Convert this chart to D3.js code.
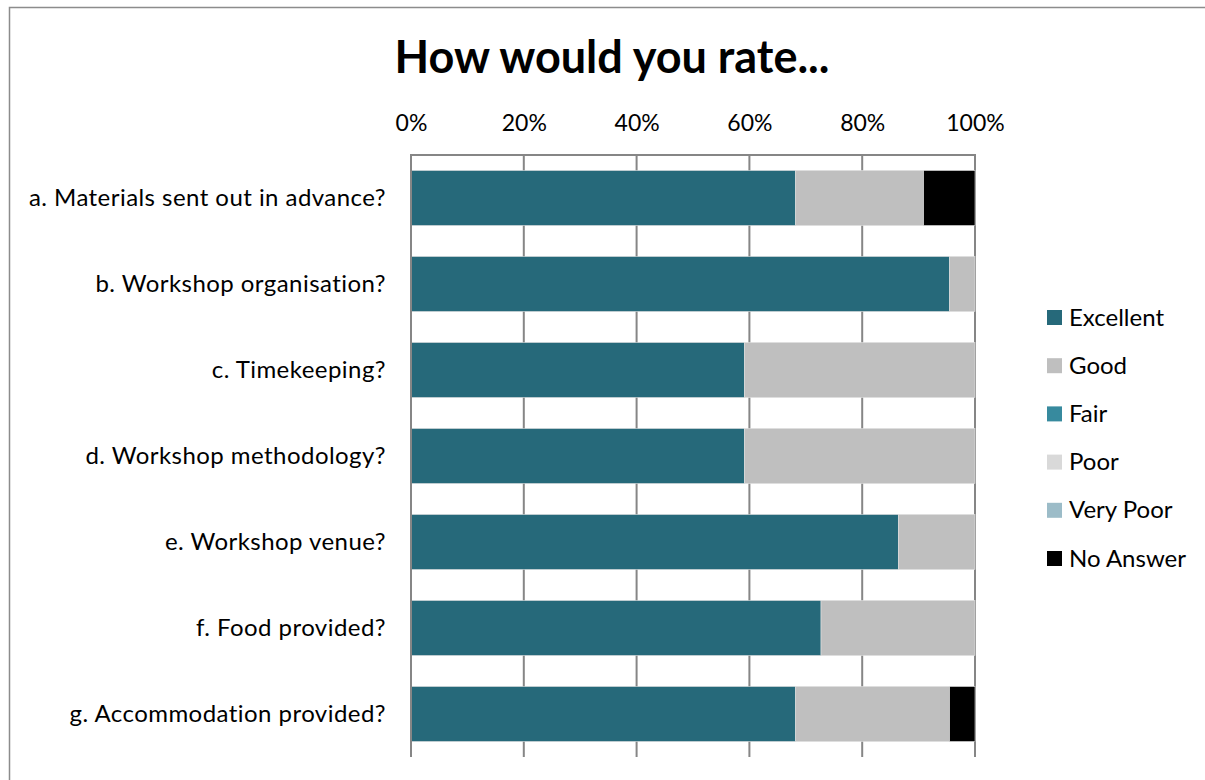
<!DOCTYPE html>
<html>
<head>
<meta charset="utf-8">
<script src="https://d3js.org/d3.v7.min.js"></script>
<style>
    body { margin: 0; background: #fff; }
    svg { display: block; font-family: Lato, "Open Sans", sans-serif; }
</style>
</head>
<body>
<svg width="1205" height="780"></svg>
<script>
    // questions, top to bottom
    var questions = [
        'a. Materials sent out in advance?',
        'b. Workshop organisation?',
        'c. Timekeeping?',
        'd. Workshop methodology?',
        'e. Workshop venue?',
        'f. Food provided?',
        'g. Accommodation provided?'
    ];
    var ratings = ['Excellent', 'Good', 'Fair', 'Poor', 'Very Poor', 'No Answer'];
    var colors = ['#26697a', '#bfbfbf', '#378a9e', '#d9d9d9', '#9cbcc8', '#000000'];

    // percentage of answers per rating, one value per question
    var excellent = [68.2, 95.5, 59.1, 59.1, 86.4, 72.7, 68.2];
    var good      = [22.7, 4.5, 40.9, 40.9, 13.6, 27.3, 27.3];
    var fair      = [0, 0, 0, 0, 0, 0, 0];
    var poor      = [0, 0, 0, 0, 0, 0, 0];
    var veryPoor  = [0, 0, 0, 0, 0, 0, 0];
    var noAnswer  = [9.1, 0, 0, 0, 0, 0, 4.5];

    var tickValues = [0, 20, 40, 60, 80, 100];

    var series = [excellent, good, fair, poor, veryPoor, noAnswer];
    var rows = questions.map(function(q, i) {
        var r = {q: q};
        ratings.forEach(function(k, j) { r[k] = series[j][i]; });
        return r;
    });

    var svg = d3.select('svg');

    // outer frame
    svg.append('rect')
        .attr('x', 9.5).attr('y', 7.5)
        .attr('width', 1220).attr('height', 800)
        .attr('fill', 'none').attr('stroke', '#8c8c8c').attr('stroke-width', 1.5);

    var plotLeft = 411, plotRight = 975, plotTop = 155, plotBottom = 757;

    var x = d3.scaleLinear().domain([0, 100]).range([plotLeft, plotRight]);
    var y = d3.scaleBand().domain(questions).range([plotTop, plotBottom])
        .paddingInner(0.36).paddingOuter(0.18);

    svg.append('text')
        .attr('x', 612).attr('y', 73)
        .attr('text-anchor', 'middle')
        .attr('font-size', 45).attr('font-weight', 'bold')
        .text('How would you rate...');

    // gridlines
    svg.append('g').selectAll('line')
        .data(tickValues)
        .enter().append('line')
        .attr('x1', function(d) { return x(d); })
        .attr('x2', function(d) { return x(d); })
        .attr('y1', plotTop).attr('y2', plotBottom)
        .attr('stroke', '#868686').attr('stroke-width', 2);

    // top border line
    svg.append('line')
        .attr('x1', plotLeft - 1).attr('x2', plotRight + 1)
        .attr('y1', plotTop).attr('y2', plotTop)
        .attr('stroke', '#868686').attr('stroke-width', 2);

    var stack = d3.stack().keys(ratings);
    var layers = stack(rows);

    svg.append('g').selectAll('g')
        .data(layers)
        .enter().append('g')
        .attr('fill', function(d, i) { return colors[i]; })
        .selectAll('rect')
        .data(function(d) { return d.filter(function(s) { return s[1] - s[0] > 0; }); })
        .enter().append('rect')
        .attr('x', function(d) { return x(d[0]); })
        .attr('width', function(d) { return x(d[1]) - x(d[0]); })
        .attr('y', function(d) { return y(d.data.q); })
        .attr('height', y.bandwidth())
        .attr('stroke', '#e0e0e0').attr('stroke-width', 0.6);

    // left axis line over the bars
    svg.append('line')
        .attr('x1', plotLeft).attr('x2', plotLeft)
        .attr('y1', plotTop).attr('y2', plotBottom)
        .attr('stroke', '#868686').attr('stroke-width', 2);

    // top axis labels
    var xAxis = d3.axisTop(x).tickValues(tickValues).tickSize(0).tickPadding(0)
        .tickFormat(function(d) { return d + '%'; });
    var ax = svg.append('g').attr('transform', 'translate(0,131)').call(xAxis);
    ax.select('.domain').remove();
    ax.selectAll('text').attr('font-size', 23).attr('fill', '#000')
        .attr('font-family', 'Lato, sans-serif').attr('dy', 0);

    // category labels
    var yAxis = d3.axisLeft(y).tickSize(0).tickPadding(25);
    var ay = svg.append('g').attr('transform', 'translate(' + plotLeft + ',0)').call(yAxis);
    ay.select('.domain').remove();
    ay.selectAll('text').attr('font-size', 24).attr('fill', '#000')
        .attr('letter-spacing', 0.45)
        .attr('font-family', 'Lato, sans-serif');

    // legend
    var legend = svg.append('g').selectAll('g')
        .data(ratings)
        .enter().append('g')
        .attr('transform', function(d, i) { return 'translate(1047,' + (310 + i * 48.2) + ')'; });
    legend.append('rect')
        .attr('width', 15).attr('height', 15)
        .attr('fill', function(d, i) { return colors[i]; });
    legend.append('text')
        .attr('x', 22).attr('y', 15.5)
        .attr('font-size', 24)
        .text(function(d) { return d; });
</script>
</body>
</html>
